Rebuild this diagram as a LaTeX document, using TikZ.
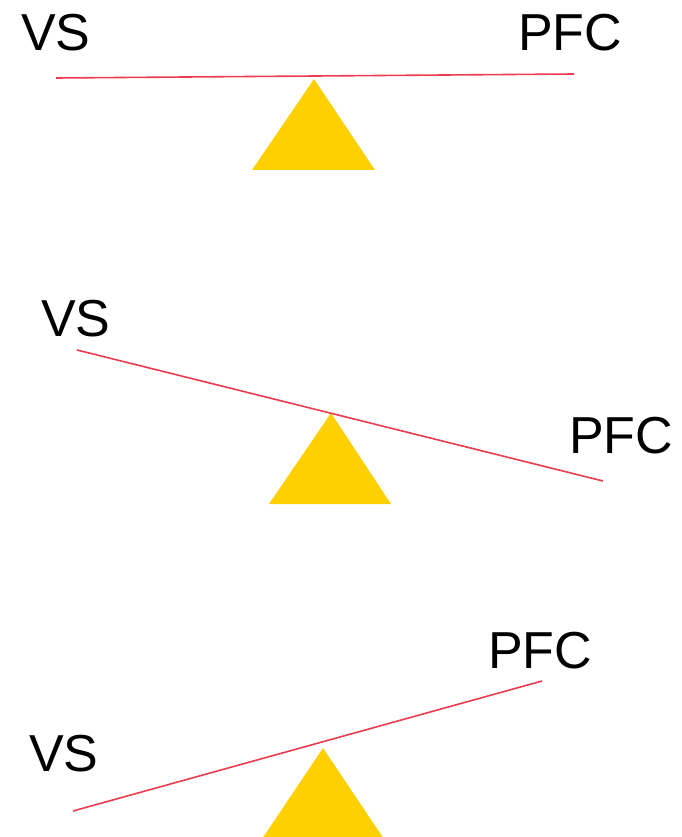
\documentclass[tikz,border=0pt]{standalone}
\usepackage{fontspec}
\setmainfont{Liberation Sans}
\definecolor{beamred}{RGB}{236,60,80}
\definecolor{fulcrum}{RGB}{255,208,0}
\begin{document}
\begin{tikzpicture}[x=1pt,y=-1pt,
  beam/.style={draw=beamred,line width=1.6pt},
  pivot/.style={fill=fulcrum,draw=none},
  lbl/.style={font=\fontsize{52}{52}\selectfont,inner sep=0pt,anchor=base west,text=black}]
\useasboundingbox (0,0) rectangle (681,837);
% panel 1
\fill[pivot] (314,79) -- (375,170) -- (252,170) -- cycle;
\coordinate (a1) at (56,78);
\coordinate (b1) at (574,74);
\draw[beam] (a1) -- (b1);
\node[lbl] (vs1) at (21,51) {VS};
\node[lbl] (pfc1) at (518,51) {PFC};
% panel 2
\fill[pivot] (331,413) -- (391,504) -- (269,504) -- cycle;
\coordinate (a2) at (77,350);
\coordinate (b2) at (603,481);
\draw[beam] (a2) -- (b2);
\node[lbl] (vs2) at (41,336) {VS};
\node[lbl] (pfc2) at (569,453) {PFC};
% panel 3
\fill[pivot] (323,748) -- (384,839) -- (262,839) -- cycle;
\coordinate (a3) at (73,811);
\coordinate (b3) at (542,681);
\draw[beam] (a3) -- (b3);
\node[lbl] (vs3) at (29,771) {VS};
\node[lbl] (pfc3) at (488,668) {PFC};
\end{tikzpicture}
\end{document}
